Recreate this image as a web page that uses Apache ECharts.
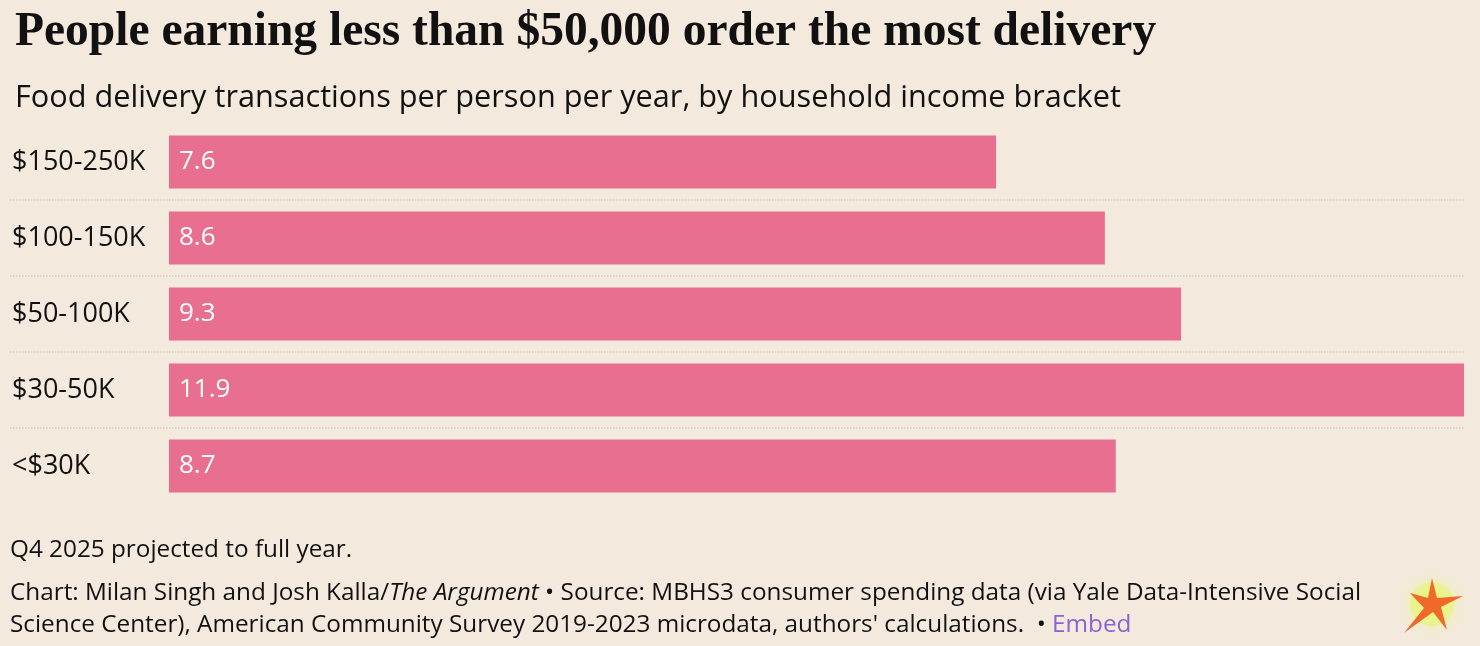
<!DOCTYPE html>
<html>
<head>
<meta charset="utf-8">
<script src="https://cdn.jsdelivr.net/npm/echarts@6/dist/echarts.min.js"></script>
<style>
html,body{margin:0;padding:0;background:#f3eadd;}
#container{width:1480px;height:646px;}
</style>
</head>
<body>
<div id="container"></div>
<script>
// income brackets, top to bottom as drawn
var categories = ['<$30K', '$30-50K', '$50-100K', '$100-150K', '$150-250K'];
var values = [8.7, 11.9, 9.3, 8.6, 7.6];

var myChart = echarts.init(document.getElementById('container'));
var font = '"Open Sans", Lato, sans-serif';

var option = {
	backgroundColor: '#f3eadd',
	title: [{
		text: 'People earning less than $50,000 order the most delivery',
		left: 10, top: 4,
		textStyle: { fontFamily: '"Liberation Serif", serif', fontWeight: 'bold', fontSize: 47.5, color: '#111' }
	}, {
		text: 'Food delivery transactions per person per year, by household income bracket',
		left: 10, top: 78,
		textStyle: { fontFamily: font, fontWeight: 'normal', fontSize: 30.7, color: '#111' }
	}],
	grid: { left: 10, right: 16, top: 124, bottom: 142 },
	xAxis: {
		type: 'value', min: -1.461, max: 11.9,
		show: false
	},
	yAxis: [{
		type: 'category', data: categories,
		axisLine: { show: false }, axisTick: { show: false },
		axisLabel: { inside: true, margin: 2, fontFamily: font, fontSize: 27, color: '#111' },
		splitLine: { show: false },
		z: 5
	}, {
		// hidden helper axis, only for the dotted row separators
		type: 'value', min: 0, max: categories.length, interval: 1,
		axisLine: { show: false }, axisTick: { show: false }, axisLabel: { show: false },
		splitLine: {
			show: true, showMinLine: false, showMaxLine: false,
			lineStyle: { type: 'dotted', color: '#d6ccbe', width: 1.5 }
		}
	}],
	series: [{
		type: 'bar', data: values, barWidth: 53,
		itemStyle: { color: '#e86f8f' },
		label: {
			show: true, position: 'insideLeft', distance: 10,
			fontFamily: font, fontSize: 26, color: '#fff',
			formatter: function (p) { return p.value.toFixed(1); }
		}
	}],
	graphic: [{
		type: 'text', left: 10, top: 538,
		style: { text: 'Q4 2025 projected to full year.', font: '24.3px ' + font, fill: '#111' }
	}, {
		type: 'text', left: 10, top: 577,
		style: {
			text: '{n|Chart: Milan Singh and Josh Kalla/}{i|The Argument}{n| • Source: MBHS3 consumer spending data (via Yale Data-Intensive Social}\n{n|Science Center), American Community Survey 2019-2023 microdata, authors\' calculations.  • }{e|Embed}',
			font: '24.3px ' + font, fill: '#111', lineHeight: 32,
			rich: {
				n: { fontFamily: font, fontSize: 24.3, fill: '#111', lineHeight: 32 },
				i: { fontFamily: font, fontSize: 24.3, fontStyle: 'italic', fill: '#111', lineHeight: 32 },
				e: { fontFamily: font, fontSize: 24.3, fill: '#8a63d2', lineHeight: 32 }
			}
		}
	}, {
		type: 'circle', shape: { cx: 1432, cy: 604, r: 22 },
		style: { fill: 'rgba(230,245,110,0.55)', shadowBlur: 16, shadowColor: 'rgba(230,250,100,0.9)' }
	}, {
		type: 'polygon',
		shape: { points: [[1432, 578], [1437, 598], [1463, 596], [1441, 607], [1447, 630], [1433, 612], [1404, 633], [1424, 608], [1410, 593], [1428, 598]] },
		style: { fill: '#ef6a2a' }
	}]
};
myChart.setOption(option);
</script>
</body>
</html>
